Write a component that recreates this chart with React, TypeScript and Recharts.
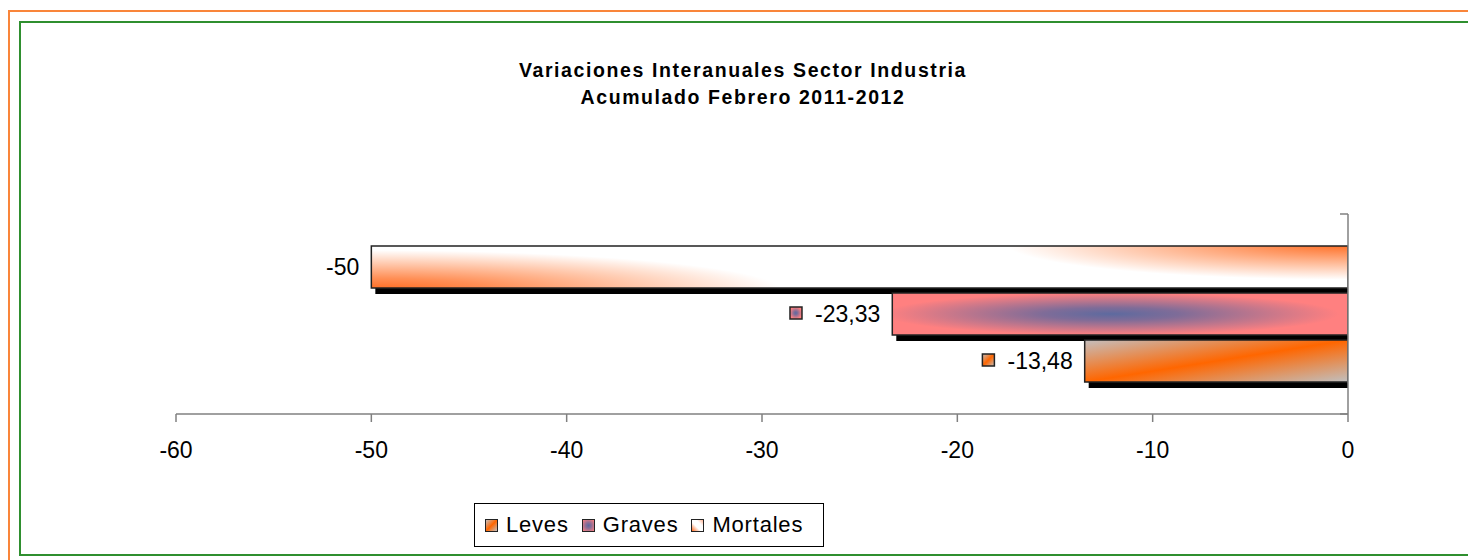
import React from 'react';
import { BarChart, Bar, XAxis, YAxis, LabelList } from 'recharts';

const categories = ['Industria'];
const seriesNames = ['Leves', 'Graves', 'Mortales'];
const levesValues = [-13.48];
const gravesValues = [-23.33];
const mortalesValues = [-50];
const xTicks = [-60, -50, -40, -30, -20, -10, 0];

const data = categories.map((name, i) => ({
  name,
  Leves: levesValues[i],
  Graves: gravesValues[i],
  Mortales: mortalesValues[i],
}));

const FONT = 'Arial, "Liberation Sans", sans-serif';
const ORANGE = '#ff6a1e';

// excel-like gradient fills, one per series
const gradientDef = (key: string, id: string) => {
  if (key === 'Leves') {
    return (
      <linearGradient id={id} x1="0" y1="0" x2="1" y2="1">
        <stop offset="0" stopColor="#c4bfbf" />
        <stop offset="0.5" stopColor="#ff6600" />
        <stop offset="1" stopColor="#c0c0c0" />
      </linearGradient>
    );
  }
  return (
    <radialGradient id={id} cx="0.48" cy="0.5" r="0.5">
      <stop offset="0" stopColor="#5d6a9f" />
      <stop offset="0.3" stopColor="#7f6c98" />
      <stop offset="1" stopColor="#ff8080" />
    </radialGradient>
  );
};

const swatchCss: Record<string, string> = {
  Leves: 'linear-gradient(135deg, #c4bfbf 0%, #ff6600 50%, #c0c0c0 100%)',
  Graves: 'radial-gradient(circle, #5d6a9f 0%, #8a6e97 35%, #ff8080 100%)',
  Mortales: 'linear-gradient(45deg, #ff6a1e 0%, #ffffff 40%, #ffffff 70%, #ffb090 100%)',
};

const ShadowBar = (props: any) => {
  const { x, y, width, height, seriesKey } = props;
  const left = width < 0 ? x + width : x;
  const w = Math.abs(width);
  const id = `bar-grad-${seriesKey}`;
  const shadow = <rect x={left + 4} y={y + 6} width={Math.max(w - 4, 0)} height={height} fill="#000" />;
  if (seriesKey === 'Mortales') {
    return (
      <g>
        <defs>
          <radialGradient id={`${id}-a`} cx="0" cy="0" r="1" gradientTransform="translate(0 1.05) scale(0.42 0.95)">
            <stop offset="0" stopColor={ORANGE} stopOpacity="1" />
            <stop offset="0.3" stopColor={ORANGE} stopOpacity="0.75" />
            <stop offset="1" stopColor={ORANGE} stopOpacity="0" />
          </radialGradient>
          <radialGradient id={`${id}-b`} cx="0" cy="0" r="1" gradientTransform="translate(1 -0.05) scale(0.35 0.85)">
            <stop offset="0" stopColor={ORANGE} stopOpacity="1" />
            <stop offset="0.3" stopColor={ORANGE} stopOpacity="0.7" />
            <stop offset="1" stopColor={ORANGE} stopOpacity="0" />
          </radialGradient>
        </defs>
        {shadow}
        <rect x={left} y={y} width={w} height={height} fill="#fff" />
        <rect x={left} y={y} width={w} height={height} fill={`url(#${id}-a)`} />
        <rect x={left} y={y} width={w} height={height} fill={`url(#${id}-b)`} />
        <rect x={left} y={y} width={w} height={height} fill="none" stroke="#222" strokeWidth={1.5} />
      </g>
    );
  }
  return (
    <g>
      <defs>{gradientDef(seriesKey, id)}</defs>
      {shadow}
      <rect x={left} y={y} width={w} height={height} fill={`url(#${id})`} stroke="#222" strokeWidth={1.5} />
    </g>
  );
};

const charW = (s: string) =>
  s.split('').reduce((acc, c) => acc + (c === '-' ? 7.7 : c === ',' ? 6.4 : 12.8), 0);

const makeLabel = (seriesKey: string, withKey: boolean) => (props: any) => {
  const { x, y, width, height, value } = props;
  const left = Math.min(x, x + width);
  const cy = y + height / 2;
  const text = String(value).replace('.', ',');
  const tx = left - 12;
  const id = `lbl-grad-${seriesKey}`;
  return (
    <g>
      {withKey && (
        <>
          <defs>{gradientDef(seriesKey, id)}</defs>
          <rect
            x={tx - charW(text) - 25}
            y={cy - 7}
            width={12}
            height={12}
            fill={`url(#${id})`}
            stroke="#222"
            strokeWidth={1.5}
          />
        </>
      )}
      <text x={tx} y={cy} textAnchor="end" dominantBaseline="central" fontSize={23} fontFamily={FONT} fill="#000">
        {text}
      </text>
    </g>
  );
};

const BandTick = (props: any) => {
  const { x, y, payload } = props;
  const off = payload && payload.offset ? payload.offset : 100;
  return (
    <g stroke="#808080" strokeWidth={1.5}>
      <line x1={x - 8} y1={y - off} x2={x} y2={y - off} />
      <line x1={x - 8} y1={y + off} x2={x} y2={y + off} />
    </g>
  );
};

const barOrder = ['Mortales', 'Graves', 'Leves'];

export default function App() {
  return (
    <div style={{ position: 'absolute', left: 0, top: 0, width: 1468, height: 560, overflow: 'hidden', background: '#fff', fontFamily: FONT }}>
      <div style={{ position: 'absolute', left: 8, top: 10, width: 1600, height: 700, border: '2px solid #f9853a' }} />
      <div style={{ position: 'absolute', left: 19, top: 21, width: 1600, height: 535, boxSizing: 'border-box', border: '2px solid #2f8f2f' }} />

      <div style={{ position: 'absolute', left: 0, top: 57, width: 1486, textAlign: 'center', fontSize: 19.5, lineHeight: '27px', fontWeight: 'bold', color: '#000', letterSpacing: 1.6 }}>
        <div>Variaciones Interanuales Sector Industria</div>
        <div>Acumulado Febrero 2011-2012</div>
      </div>

      <div style={{ position: 'absolute', left: 0, top: 0 }}>
        <BarChart
          width={1468}
          height={560}
          data={data}
          layout="vertical"
          margin={{ top: 214, right: 110, bottom: 86, left: 176 }}
          barSize={42}
          barGap={5}
        >
          <XAxis
            type="number"
            domain={[-60, 0]}
            ticks={xTicks}
            allowDataOverflow
            height={60}
            stroke="#808080"
            tickSize={8}
            tickMargin={20}
            tick={{ fill: '#000', fontSize: 23, fontFamily: FONT }}
            axisLine={{ stroke: '#808080', strokeWidth: 1.5 }}
            tickLine={{ stroke: '#808080', strokeWidth: 1.5 }}
          />
          <YAxis
            type="category"
            dataKey="name"
            orientation="right"
            width={10}
            tickSize={0}
            tickMargin={0}
            tickLine={false}
            axisLine={{ stroke: '#808080', strokeWidth: 1.5 }}
            tick={<BandTick />}
          />
          {barOrder.map((key) => (
            <Bar
              key={key}
              dataKey={key}
              isAnimationActive={false}
              shape={(p: any) => <ShadowBar {...p} seriesKey={key} />}
            >
              <LabelList dataKey={key} content={makeLabel(key, key !== 'Mortales')} />
            </Bar>
          ))}
        </BarChart>
      </div>

      <div
        style={{
          position: 'absolute',
          left: 474,
          top: 503,
          width: 350,
          height: 44,
          boxSizing: 'border-box',
          border: '1px solid #000',
          display: 'flex',
          alignItems: 'center',
          paddingLeft: 10,
          fontSize: 22,
          letterSpacing: 0.8,
          color: '#000',
        }}
      >
        {seriesNames.map((name) => (
          <div key={name} style={{ display: 'flex', alignItems: 'center', marginRight: 13 }}>
            <span
              style={{
                display: 'inline-block',
                width: 11,
                height: 11,
                border: '1.5px solid #222',
                background: swatchCss[name],
                marginRight: 8,
              }}
            />
            <span>{name}</span>
          </div>
        ))}
      </div>
    </div>
  );
}
